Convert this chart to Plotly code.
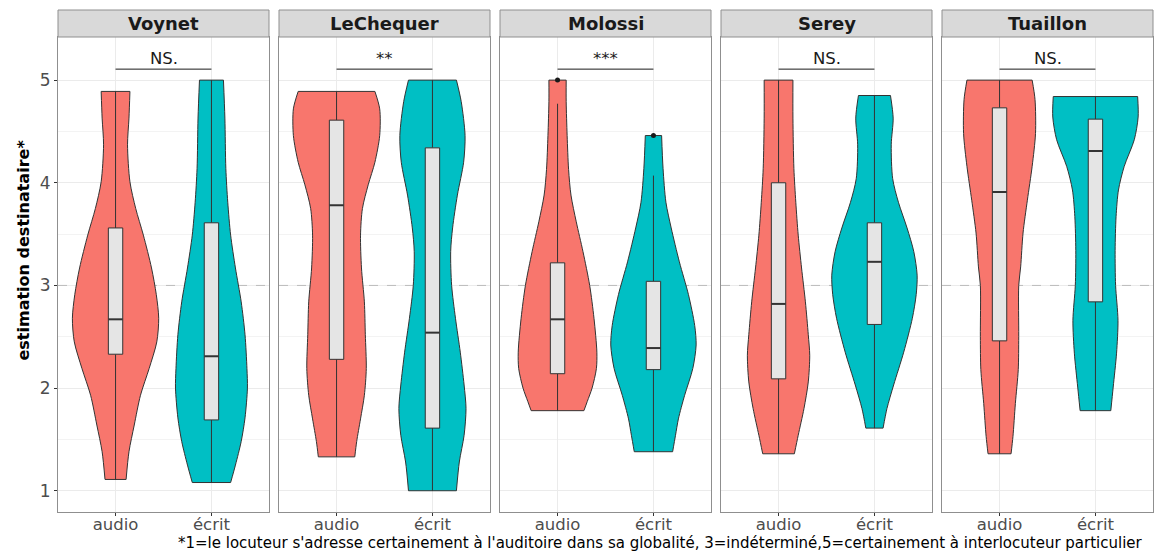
import plotly.graph_objects as go

# ---------------- data ----------------
facets = ["Voynet", "LeChequer", "Molossi", "Serey", "Tuaillon"]
groups = ["audio", "écrit"]
signif = ["NS.", "**", "***", "NS.", "NS."]

# box statistics per facet (audio)
audio_lo = [1.11, 1.33, 1.78, 1.36, 1.36]
audio_q1 = [2.33, 2.28, 2.14, 2.09, 2.46]
audio_med = [2.67, 3.78, 2.67, 2.82, 3.91]
audio_q3 = [3.56, 4.61, 3.22, 4.00, 4.73]
audio_hi = [4.89, 4.89, 4.77, 5.00, 5.00]
# box statistics per facet (écrit)
ecrit_lo = [1.08, 1.00, 1.38, 1.61, 1.78]
ecrit_q1 = [1.69, 1.61, 2.18, 2.62, 2.84]
ecrit_med = [2.31, 2.54, 2.39, 3.23, 4.31]
ecrit_q3 = [3.61, 4.34, 3.04, 3.61, 4.62]
ecrit_hi = [5.00, 5.00, 4.07, 4.85, 4.84]
# outliers
audio_out = [[], [], [5.0], [], []]
ecrit_out = [[], [], [4.46], [], []]

# violin density profiles (value levels, half-width)
voynet_audio_y = [1.11, 1.38, 1.64, 1.93, 2.19, 2.45, 2.68, 2.91, 3.17, 3.49, 3.75, 4.01, 4.37, 4.63, 4.89]
voynet_audio_w = [0.11, 0.14, 0.195, 0.26, 0.35, 0.43, 0.45, 0.425, 0.375, 0.29, 0.21, 0.15, 0.125, 0.14, 0.15]
voynet_ecrit_y = [1.08, 1.25, 1.48, 1.71, 2.0, 2.19, 2.52, 2.84, 3.17, 3.49, 3.81, 4.14, 4.63, 5.0]
voynet_ecrit_w = [0.20, 0.25, 0.31, 0.35, 0.375, 0.37, 0.35, 0.31, 0.25, 0.20, 0.17, 0.15, 0.14, 0.125]

lechequer_audio_y = [1.33, 1.48, 1.70, 1.93, 2.19, 2.52, 2.84, 3.17, 3.49, 3.75, 3.98, 4.20, 4.46, 4.72, 4.89]
lechequer_audio_w = [0.19, 0.21, 0.25, 0.29, 0.31, 0.30, 0.29, 0.26, 0.25, 0.27, 0.33, 0.40, 0.45, 0.45, 0.40]
lechequer_ecrit_y = [1.0, 1.28, 1.54, 1.80, 2.03, 2.35, 2.68, 3.0, 3.33, 3.56, 3.88, 4.20, 4.46, 4.79, 5.0]
lechequer_ecrit_w = [0.25, 0.28, 0.33, 0.35, 0.33, 0.29, 0.24, 0.20, 0.19, 0.21, 0.26, 0.325, 0.34, 0.30, 0.25]

molossi_audio_y = [1.78, 1.87, 2.0, 2.19, 2.35, 2.68, 3.0, 3.33, 3.62, 3.88, 4.13, 4.46, 4.79, 5.0]
molossi_audio_w = [0.275, 0.31, 0.36, 0.405, 0.41, 0.38, 0.335, 0.265, 0.195, 0.14, 0.115, 0.10, 0.09, 0.09]
molossi_ecrit_y = [1.38, 1.54, 1.70, 1.93, 2.19, 2.42, 2.61, 2.91, 3.23, 3.56, 3.81, 4.14, 4.46]
molossi_ecrit_w = [0.20, 0.23, 0.26, 0.325, 0.41, 0.445, 0.43, 0.365, 0.27, 0.185, 0.13, 0.10, 0.085]

serey_audio_y = [1.36, 1.54, 1.80, 2.06, 2.32, 2.52, 2.84, 3.17, 3.49, 3.81, 4.14, 4.63, 5.0]
serey_audio_w = [0.165, 0.205, 0.265, 0.31, 0.325, 0.31, 0.28, 0.24, 0.205, 0.18, 0.16, 0.15, 0.15]
serey_ecrit_y = [1.61, 1.80, 2.03, 2.35, 2.68, 2.91, 3.10, 3.33, 3.56, 3.81, 4.04, 4.37, 4.63, 4.85]
serey_ecrit_w = [0.09, 0.13, 0.20, 0.305, 0.395, 0.435, 0.445, 0.41, 0.34, 0.25, 0.19, 0.175, 0.195, 0.167]

tuaillon_audio_y = [1.36, 1.53, 1.85, 2.18, 2.50, 3.0, 3.18, 3.51, 3.83, 4.16, 4.48, 4.81, 5.0]
tuaillon_audio_w = [0.12, 0.14, 0.165, 0.195, 0.20, 0.20, 0.22, 0.245, 0.29, 0.34, 0.375, 0.37, 0.34]
tuaillon_ecrit_y = [1.78, 2.01, 2.34, 2.66, 3.0, 3.34, 3.67, 3.93, 4.16, 4.42, 4.64, 4.84]
tuaillon_ecrit_w = [0.16, 0.185, 0.22, 0.235, 0.21, 0.205, 0.215, 0.24, 0.30, 0.405, 0.445, 0.44]

y_ticks = [1, 2, 3, 4, 5]
y_minor = [1.5, 2.5, 3.5, 4.5]
y_title = "estimation destinataire*"
caption = ("*1=le locuteur s'adresse certainement à l'auditoire dans sa globalité, "
           "3=indéterminé,5=certainement à interlocuteur particulier")

profiles = {
    "Voynet": [(voynet_audio_y, voynet_audio_w), (voynet_ecrit_y, voynet_ecrit_w)],
    "LeChequer": [(lechequer_audio_y, lechequer_audio_w), (lechequer_ecrit_y, lechequer_ecrit_w)],
    "Molossi": [(molossi_audio_y, molossi_audio_w), (molossi_ecrit_y, molossi_ecrit_w)],
    "Serey": [(serey_audio_y, serey_audio_w), (serey_ecrit_y, serey_ecrit_w)],
    "Tuaillon": [(tuaillon_audio_y, tuaillon_audio_w), (tuaillon_ecrit_y, tuaillon_ecrit_w)],
}
box_stats = [
    (audio_lo, audio_q1, audio_med, audio_q3, audio_hi, audio_out),
    (ecrit_lo, ecrit_q1, ecrit_med, ecrit_q3, ecrit_hi, ecrit_out),
]

# ---------------- style / layout ----------------
W, H = 1156, 553
FONT = "DejaVu Sans"
colors = ["#F8766D", "#00BFC4"]
panel_px = [(58, 269), (279, 490), (500, 711), (721, 932), (942, 1153)]
plot_top, plot_bot, strip_top = 37, 512.3, 10
YR = [0.79, 5.42]
XR = [0.4, 2.6]
BOX_HALF = 0.075
BORDER = "#8F8F8F"
GRID = "#EBEBEB"
INK = "#333333"

fig = go.Figure()
layout = dict(
    width=W, height=H, autosize=False,
    margin=dict(l=0, r=0, t=0, b=0),
    paper_bgcolor="white", plot_bgcolor="white",
    showlegend=False, font=dict(family=FONT, color="#1A1A1A"),
    shapes=[], annotations=[],
)

y0p = 1 - plot_bot / H
y1p = 1 - plot_top / H
for i, f in enumerate(facets):
    sfx = "" if i == 0 else str(i + 1)
    xa, ya = "x" + sfx, "y" + sfx
    xd = [panel_px[i][0] / W, panel_px[i][1] / W]
    layout["xaxis" + sfx] = dict(
        domain=xd, anchor=ya, range=XR, tickmode="array", tickvals=[1, 2],
        ticktext=groups, ticks="outside", ticklen=3, tickcolor=INK, tickwidth=1,
        ticklabelstandoff=-6,
        tickfont=dict(family=FONT, size=16.5, color="#4D4D4D"),
        showgrid=True, gridcolor=GRID, gridwidth=1, zeroline=False,
        showline=True, mirror=True, linecolor=BORDER, linewidth=1, fixedrange=True,
    )
    layout["yaxis" + sfx] = dict(
        domain=[y0p, y1p], anchor=xa, range=YR, tickmode="array", tickvals=y_ticks,
        showticklabels=(i == 0), ticks="outside" if i == 0 else "", ticklen=3,
        tickcolor=INK, tickwidth=1,
        tickfont=dict(family=FONT, size=17, color="#4D4D4D"),
        showgrid=True, gridcolor=GRID, gridwidth=1, zeroline=False,
        minor=dict(tickvals=y_minor, showgrid=True, gridcolor="#F3F3F3", gridwidth=1, ticks=""),
        showline=True, mirror=True, linecolor=BORDER, linewidth=1, fixedrange=True,
    )
    # strip
    layout["shapes"].append(dict(
        type="rect", xref="paper", yref="paper", x0=xd[0], x1=xd[1],
        y0=y1p, y1=1 - strip_top / H, fillcolor="#D9D9D9",
        line=dict(color=BORDER, width=1), layer="above"))
    layout["annotations"].append(dict(
        text="<b>%s</b>" % f, xref="paper", yref="paper",
        x=(xd[0] + xd[1]) / 2, y=1 - (strip_top + plot_top) / 2 / H,
        xanchor="center", yanchor="middle", showarrow=False,
        font=dict(family=FONT, size=18, color="#1A1A1A")))

    # reference dashed line at 3
    fig.add_trace(go.Scatter(x=XR, y=[3, 3], xaxis=xa, yaxis=ya, mode="lines",
                             line=dict(color="#BBBBBB", width=1, dash="dash"),
                             hoverinfo="skip"))
    for j, g in enumerate(groups):
        c = j + 1
        py, pw = profiles[f][j]
        side = dict(color=INK, width=1, shape="spline", smoothing=0.8)
        # left side of violin
        fig.add_trace(go.Scatter(
            x=[c - w for w in pw], y=py, xaxis=xa, yaxis=ya, mode="lines",
            line=side, hoverinfo="skip"))
        # right side, filled to the left side
        fig.add_trace(go.Scatter(
            x=[c + w for w in pw], y=py, xaxis=xa, yaxis=ya, mode="lines",
            line=side, fill="tonextx", fillcolor=colors[j], hoverinfo="skip"))
        # flat ends (trimmed tails)
        fig.add_trace(go.Scatter(
            x=[c - pw[0], c + pw[0], None, c - pw[-1], c + pw[-1]],
            y=[py[0], py[0], None, py[-1], py[-1]],
            xaxis=xa, yaxis=ya, mode="lines", line=dict(color=INK, width=1),
            hoverinfo="skip"))
        # boxplot
        lo, q1, med, q3, hi, out = box_stats[j]
        fig.add_trace(go.Scatter(
            x=[c, c, None, c, c], y=[lo[i], q1[i], None, q3[i], hi[i]],
            xaxis=xa, yaxis=ya, mode="lines", line=dict(color=INK, width=1),
            hoverinfo="skip"))
        fig.add_trace(go.Scatter(
            x=[c - BOX_HALF, c + BOX_HALF, c + BOX_HALF, c - BOX_HALF, c - BOX_HALF],
            y=[q1[i], q1[i], q3[i], q3[i], q1[i]],
            xaxis=xa, yaxis=ya, mode="lines", fill="toself", fillcolor="#E5E5E5",
            line=dict(color=INK, width=1), hoverinfo="skip"))
        fig.add_trace(go.Scatter(
            x=[c - BOX_HALF, c + BOX_HALF], y=[med[i], med[i]],
            xaxis=xa, yaxis=ya, mode="lines", line=dict(color=INK, width=2),
            hoverinfo="skip"))
        if out[i]:
            fig.add_trace(go.Scatter(
                x=[c] * len(out[i]), y=out[i], xaxis=xa, yaxis=ya, mode="markers",
                marker=dict(color="#1A1A1A", size=5), hoverinfo="skip"))
    # significance bracket
    fig.add_trace(go.Scatter(x=[1, 2], y=[5.107, 5.107], xaxis=xa, yaxis=ya,
                             mode="lines", line=dict(color="#1A1A1A", width=1),
                             hoverinfo="skip"))
    layout["annotations"].append(dict(
        text=signif[i], xref=xa, yref=ya, x=1.5, y=5.10, xanchor="center",
        yanchor="bottom", showarrow=False,
        font=dict(family=FONT, size=16.5, color="#1A1A1A")))

# y axis title
layout["annotations"].append(dict(
    text="<b>%s</b>" % y_title, xref="paper", yref="paper", x=22.5 / W,
    y=1 - 250 / H, textangle=-90, xanchor="center",
    yanchor="middle", showarrow=False, font=dict(family=FONT, size=16, color="black")))
# caption
layout["annotations"].append(dict(
    text=caption, xref="paper", yref="paper", x=1145 / W, y=1 - 543 / H,
    xanchor="right", yanchor="middle", showarrow=False,
    font=dict(family=FONT, size=15, color="black")))

fig.update_layout(**layout)
fig.write_html("out.html", config={"displayModeBar": False},
               post_script="document.body.style.margin='0';document.body.style.padding='0';")
